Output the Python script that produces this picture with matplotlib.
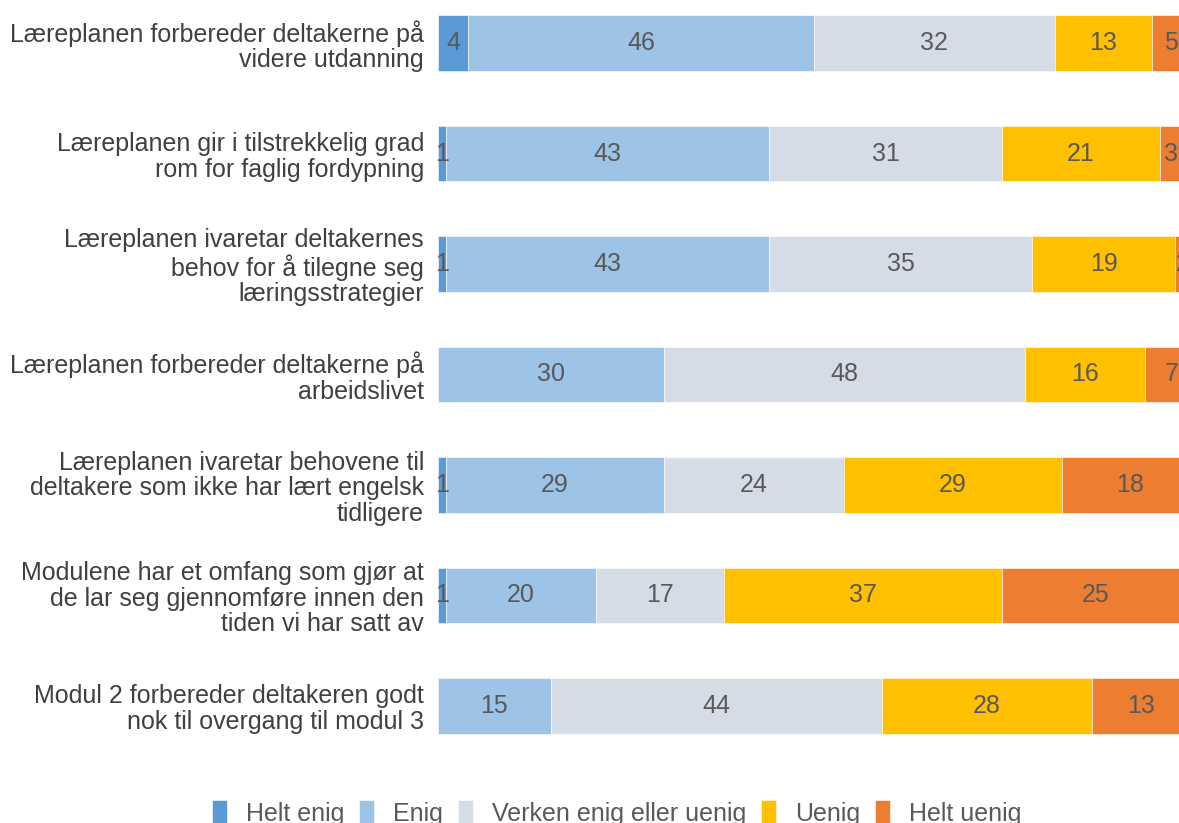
import matplotlib.pyplot as plt
import numpy as np

plt.rcParams['font.family'] = ['Liberation Sans', 'DejaVu Sans']

# Utsagn (rekkefølge ovenfra og ned)
utsagn = [
    "Læreplanen forbereder deltakerne på\nvidere utdanning",
    "Læreplanen gir i tilstrekkelig grad\nrom for faglig fordypning",
    "Læreplanen ivaretar deltakernes\nbehov for å tilegne seg\nlæringsstrategier",
    "Læreplanen forbereder deltakerne på\narbeidslivet",
    "Læreplanen ivaretar behovene til\ndeltakere som ikke har lært engelsk\ntidligere",
    "Modulene har et omfang som gjør at\nde lar seg gjennomføre innen den\ntiden vi har satt av",
    "Modul 2 forbereder deltakeren godt\nnok til overgang til modul 3",
]

kategorier = ["Helt enig", "Enig", "Verken enig eller uenig", "Uenig", "Helt uenig"]

# Prosentandeler per svarkategori
helt_enig = [4, 1, 1, 0, 1, 1, 0]
enig = [46, 43, 43, 30, 29, 20, 15]
verken = [32, 31, 35, 48, 24, 17, 44]
uenig = [13, 21, 19, 16, 29, 37, 28]
helt_uenig = [5, 3, 2, 7, 18, 25, 13]

farger = ["#5B9BD5", "#9DC3E6", "#D6DCE5", "#FFC000", "#ED7D31"]
tekstfarge = "#595959"

fig = plt.figure(figsize=(11.79, 8.23), dpi=100)
ax = fig.add_axes([438 / 1179, 74 / 823, 752 / 1179, 749 / 823])

y = np.arange(len(utsagn))
venstre = np.zeros(len(utsagn))
for serie, navn, farge in zip([helt_enig, enig, verken, uenig, helt_uenig], kategorier, farger):
    verdier = np.array(serie, dtype=float)
    ax.barh(y, verdier, left=venstre, height=0.5, color=farge, label=navn,
            edgecolor="white", linewidth=0.4)
    for yi, v, l in zip(y, verdier, venstre):
        if v > 0:
            ax.text(l + v / 2, yi, f"{int(v)}", ha="center", va="center",
                    fontsize=18, color=tekstfarge)
    venstre += verdier

ax.set_xlim(0, 100)
ax.set_ylim(6.39, -0.39)
ax.set_yticks(y)
ax.set_yticklabels(utsagn, fontsize=18, color="#404040", linespacing=1.08)
ax.tick_params(axis="y", length=0, pad=10)
ax.set_xticks([])
for s in ax.spines.values():
    s.set_visible(False)

fig.legend(loc="center", bbox_to_anchor=(0.523, 0.012), ncol=5, frameon=False,
           fontsize=18, labelcolor=tekstfarge, handlelength=0.6, handleheight=1.2,
           handletextpad=0.75, columnspacing=0.6)

fig.savefig("out.png", dpi=100)
